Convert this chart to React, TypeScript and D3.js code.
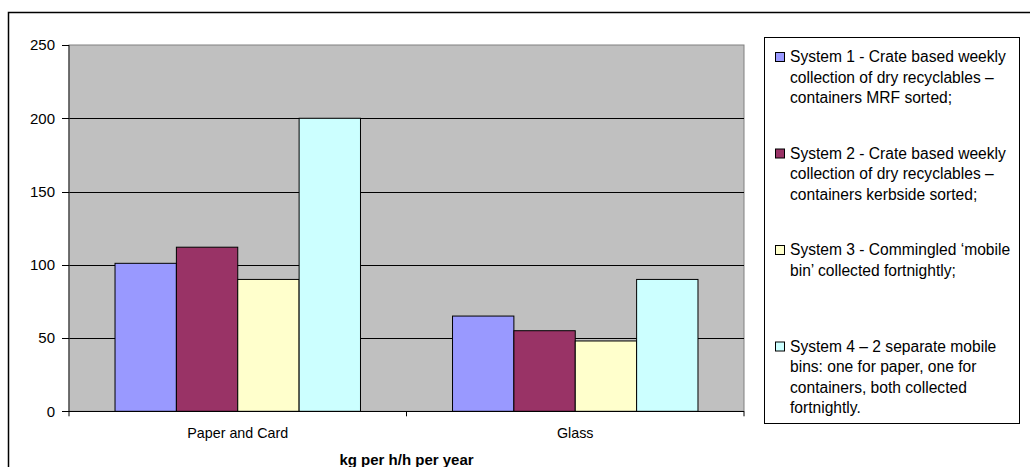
import React from 'react';
import * as d3 from 'd3';

// --- data ---
const categories = ['Paper and Card', 'Glass'];
const seriesNames = [
  'System 1 - Crate based weekly collection of dry recyclables – containers MRF sorted;',
  'System 2 - Crate based weekly collection of dry recyclables – containers kerbside sorted;',
  'System 3 - Commingled ‘mobile bin’ collected fortnightly;',
  'System 4 – 2 separate mobile bins: one for paper, one for containers, both collected fortnightly.',
];
// legend lines as wrapped in the original
const legendLines = [
  ['System 1 - Crate based weekly', 'collection of dry recyclables –', 'containers MRF sorted;'],
  ['System 2 - Crate based weekly', 'collection of dry recyclables –', 'containers kerbside sorted;'],
  ['System 3 - Commingled ‘mobile', 'bin’ collected fortnightly;'],
  ['System 4 – 2 separate mobile', 'bins: one for paper, one for', 'containers, both collected', 'fortnightly.'],
];
const system1 = [101, 65];
const system2 = [112, 55];
const system3 = [90, 48];
const system4 = [200, 90];
const seriesValues = [system1, system2, system3, system4];
const seriesColors = ['#9999FF', '#993366', '#FFFFCC', '#CCFFFF'];
const yTicks = [0, 50, 100, 150, 200, 250];
const axisTitle = 'kg per h/h per year';

// --- layout ---
const W = 1030, H = 467;
const plot = { left: 69, right: 744, top: 45, bottom: 411.3 };
const legendBox = { x: 764.5, y: 37.5, w: 255, h: 386 };
const FONT = '"Liberation Sans", Arial, sans-serif';

export default function App() {
  const x0 = d3.scaleBand<string>().domain(categories).range([plot.left, plot.right]).padding(0);
  const x1 = d3.scaleBand<number>().domain(d3.range(seriesNames.length))
    .range([0, x0.bandwidth()]).paddingInner(0).paddingOuter(0.75);
  const y = d3.scaleLinear().domain([0, 250]).range([plot.bottom, plot.top]);

  const slot = legendBox.h / seriesNames.length;
  const lineH = 20.5;

  return (
    <svg width={W} height={H} style={{ position: 'absolute', left: 0, top: 0, fontFamily: FONT }}>
      <rect x={0} y={0} width={W} height={H} fill="#fff" />
      {/* outer chart border, runs off the right/bottom edge like the original */}
      <rect x={8.5} y={12.5} width={W + 10} height={H + 10} fill="none" stroke="#000" strokeWidth={1.5} />

      {/* plot area */}
      <rect x={plot.left} y={plot.top} width={plot.right - plot.left} height={plot.bottom - plot.top}
        fill="#C0C0C0" stroke="#808080" strokeWidth={1} />

      {/* gridlines */}
      {yTicks.filter(t => t > 0 && t < 250).map(t => (
        <line key={'g' + t} x1={plot.left} x2={plot.right} y1={Math.round(y(t)) + 0.5} y2={Math.round(y(t)) + 0.5}
          stroke="#000" strokeWidth={1} />
      ))}

      {/* bars */}
      {categories.map((c, ci) => (
        <g key={c} transform={`translate(${x0(c)},0)`}>
          {seriesValues.map((vals, si) => (
            <rect key={si} x={x1(si)} y={y(vals[ci])} width={x1.bandwidth()} height={y(0) - y(vals[ci])}
              fill={seriesColors[si]} stroke="#000" strokeWidth={1} />
          ))}
        </g>
      ))}

      {/* y axis */}
      <line x1={plot.left} x2={plot.left} y1={plot.top} y2={plot.bottom} stroke="#404040" strokeWidth={1.2} />
      {yTicks.map(t => (
        <g key={'t' + t}>
          <line x1={plot.left - 7} x2={plot.left} y1={Math.round(y(t)) + 0.5} y2={Math.round(y(t)) + 0.5} stroke="#000" />
          <text x={55} y={y(t)} dy="0.35em" textAnchor="end" fontSize={15} fill="#000">{t}</text>
        </g>
      ))}

      {/* x axis */}
      <line x1={plot.left} x2={plot.right} y1={Math.round(plot.bottom) + 0.5} y2={Math.round(plot.bottom) + 0.5}
        stroke="#000" strokeWidth={1.2} />
      {[plot.left, ...categories.slice(1).map(c => x0(c) as number), plot.right].map((xx, i) => (
        <line key={'xt' + i} x1={xx} x2={xx} y1={plot.bottom} y2={plot.bottom + 5} stroke="#000" />
      ))}
      {categories.map(c => (
        <text key={'cl' + c} x={(x0(c) as number) + x0.bandwidth() / 2} y={438} textAnchor="middle" fontSize={14.3}>{c}</text>
      ))}
      <text x={(plot.left + plot.right) / 2} y={465} textAnchor="middle" fontSize={15} fontWeight="bold">{axisTitle}</text>

      {/* legend */}
      <rect x={legendBox.x} y={legendBox.y} width={legendBox.w} height={legendBox.h} fill="#fff" stroke="#000" strokeWidth={1} />
      {seriesNames.map((name, i) => {
        const top = legendBox.y + i * slot + 19.5;
        return (
          <g key={name}>
            <rect x={775.5} y={top - 4.5} width={9} height={9} fill={seriesColors[i]} stroke="#000" strokeWidth={1} />
            {legendLines[i].map((ln, li) => (
              <text key={li} x={790} y={top + li * lineH} dy="0.35em" fontSize={15.6}>{ln}</text>
            ))}
          </g>
        );
      })}
    </svg>
  );
}
